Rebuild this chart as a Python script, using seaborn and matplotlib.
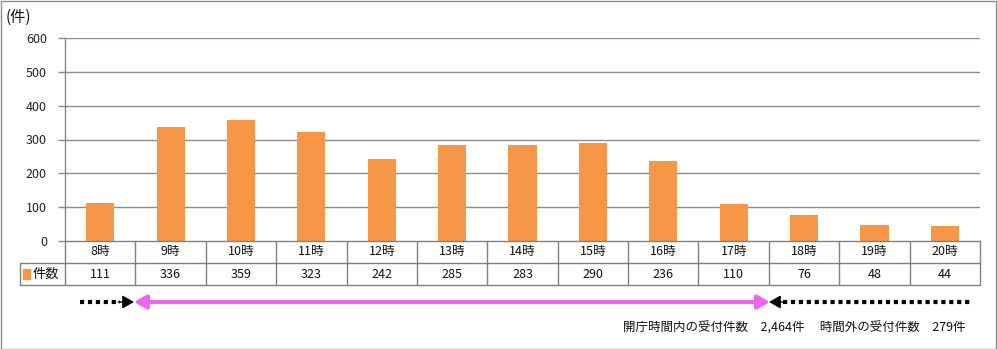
import matplotlib
matplotlib.use("Agg")
import matplotlib.pyplot as plt
import seaborn as sns
import pandas as pd
from matplotlib.patches import FancyArrowPatch, Rectangle
from matplotlib.lines import Line2D

hours = ["8時", "9時", "10時", "11時", "12時", "13時", "14時", "15時", "16時", "17時", "18時", "19時", "20時"]
counts = [111, 336, 359, 323, 242, 285, 283, 290, 236, 110, 76, 48, 44]
yticks = [0, 100, 200, 300, 400, 500, 600]
series_name = "件数"
unit_label = "(件)"
summary = "開庁時間内の受付件数　2,464件　 時間外の受付件数　279件"

sns.set_theme(style="white")
plt.rcParams['font.family'] = ['Noto Sans CJK JP', 'DejaVu Sans']

df = pd.DataFrame({"hour": hours, "count": counts})

W, H = 997, 349
fig = plt.figure(figsize=(W / 100, H / 100), dpi=100)
ax = fig.add_axes([65 / W, 1 - 241 / H, (980 - 65) / W, (241 - 38) / H])

bar_color = "#F79646"
sns.barplot(data=df, x="hour", y="count", color=bar_color, width=0.4, ax=ax,
            saturation=1, edgecolor="none")
ax.set_ylim(0, 600)
ax.set_xlim(-0.5, len(hours) - 0.5)
ax.set_yticks(yticks)
ax.set_yticklabels([str(v) for v in yticks], fontsize=9, color="#222222")
ax.set_xticks([])
ax.set_xlabel("")
ax.set_ylabel("")
grid_c = "#8C8A9A"
for v in yticks[1:]:
    ax.axhline(v, color=grid_c, lw=1, zorder=0)
for s in ["top", "right", "bottom"]:
    ax.spines[s].set_visible(False)
ax.spines["left"].set_color("#888888")
ax.spines["left"].set_linewidth(1)
ax.tick_params(axis="y", length=5, width=1, color="#888888", left=True, pad=8)

# table below the axis
line_c = "#808080"
trans = ax.get_xaxis_transform()
row1 = -22 / 203
row2 = -44 / 203
n = len(hours)
ax.plot([-0.5, n - 0.5], [0, 0], transform=trans, color=line_c, lw=1, clip_on=False)
ax.plot([-0.5 - 45 / 70.4, n - 0.5], [row1, row1], transform=trans, color=line_c, lw=1, clip_on=False)
ax.plot([-0.5 - 45 / 70.4, n - 0.5], [row2, row2], transform=trans, color=line_c, lw=1, clip_on=False)
for i in range(n + 1):
    ax.plot([i - 0.5, i - 0.5], [0, row2], transform=trans, color=line_c, lw=1, clip_on=False)
ax.plot([-0.5 - 45 / 70.4] * 2, [row1, row2], transform=trans, color=line_c, lw=1, clip_on=False)
for i, (h, c) in enumerate(zip(hours, counts)):
    ax.text(i, row1 / 2, h, transform=trans, ha="center", va="center", fontsize=9, color="#111111")
    ax.text(i, (row1 + row2) / 2, str(c), transform=trans, ha="center", va="center", fontsize=9, color="#111111")
ax.add_patch(Rectangle((-0.5 - 42 / 70.4, (row1 + row2) / 2 - 0.025), 7 / 70.4, 0.05,
                       transform=trans, color=bar_color, clip_on=False))
ax.text(-0.5 - 32 / 70.4, (row1 + row2) / 2, series_name, transform=trans,
        ha="left", va="center", fontsize=9.5, color="#111111")

fig.text(6 / W, 1 - 17 / H, unit_label, fontsize=11, va="center", ha="left", color="#111111")

# arrows
ya = 1 - 302 / H
dots = (0, (1.0, 0.9))
# left dotted + head
fig.add_artist(Line2D([80 / W, 120 / W], [ya, ya], transform=fig.transFigure, color="black",
                      lw=3, linestyle=dots, solid_capstyle="butt", dash_capstyle="butt"))
fig.patches.append(FancyArrowPatch((118 / W, ya), (134 / W, ya), transform=fig.transFigure,
                                   arrowstyle="-|>,head_length=7,head_width=4", color="black",
                                   lw=1, shrinkA=0, shrinkB=0))
# pink double arrow
fig.patches.append(FancyArrowPatch((134 / W, ya), (770 / W, ya), transform=fig.transFigure,
                                   arrowstyle="<|-|>,head_length=7,head_width=4", color="#EE66EE",
                                   lw=3, shrinkA=0, shrinkB=0))
# right dotted + head
fig.add_artist(Line2D([783 / W, 970 / W], [ya, ya], transform=fig.transFigure, color="black",
                      lw=3, linestyle=dots, solid_capstyle="butt", dash_capstyle="butt"))
fig.patches.append(FancyArrowPatch((785 / W, ya), (769 / W, ya), transform=fig.transFigure,
                                   arrowstyle="-|>,head_length=7,head_width=4", color="black",
                                   lw=1, shrinkA=0, shrinkB=0))
fig.text(965 / W, 1 - 328 / H, summary, fontsize=9, ha="right", va="center", color="#111111")

fig.patches.append(Rectangle((0.5 / W, 0.5 / H), 1 - 1.5 / W, 1 - 1.5 / H, transform=fig.transFigure,
                             fill=False, edgecolor="#8A8A8A", lw=1))

fig.savefig("out.png", dpi=100)
